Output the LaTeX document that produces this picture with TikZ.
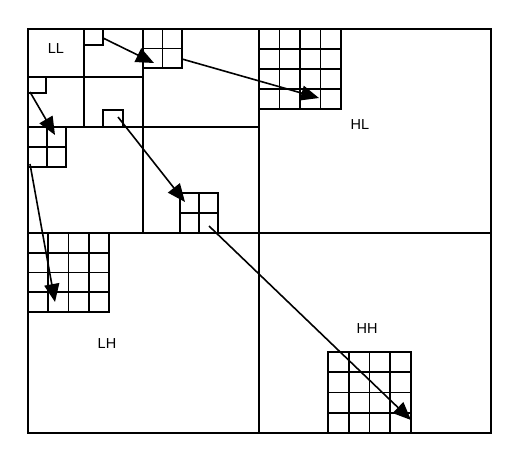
\documentclass[tikz,border=0pt]{standalone}
\usepackage{fontspec}
\setmainfont{Liberation Sans}
\usetikzlibrary{arrows.meta}
\tikzset{
  frame/.style={line width=2pt, line cap=rect},
  gridline/.style={line width=1.8pt, line cap=rect},
  arr/.style={line width=1.6pt, -{Triangle[length=18pt,width=15pt]}},
  lbl/.style={font=\fontsize{14.5}{17}\selectfont, inner sep=0pt}
}
\newcommand{\cellgrid}[5]{%
  \foreach \i in {0,...,#5}{%
    \draw[gridline] ({#1+(#3-#1)*\i/#5},#2) -- ({#1+(#3-#1)*\i/#5},#4);
    \draw[gridline] (#1,{#2+(#4-#2)*\i/#5}) -- (#3,{#2+(#4-#2)*\i/#5});
  }}
\begin{document}
\begin{tikzpicture}[x=1pt,y=-1pt]
\useasboundingbox (0,0) rectangle (516,456);
% main structure
\draw[frame] (28,29) rectangle (491,433);
\draw[frame] (259,29) -- (259,433);
\draw[frame] (28,233) -- (491,233);
\draw[frame] (143,29) -- (143,233);
\draw[frame] (28,127) -- (259,127);
\draw[frame] (84,29) -- (84,127);
\draw[frame] (28,77) -- (143,77);
% small squares
\draw[gridline] (84,45) -- (103,45) -- (103,29);
\draw[gridline] (28,93) -- (46,93) -- (46,77);
\draw[gridline] (103,127) -- (103,110) -- (123,110) -- (123,127);
% grids
\cellgrid{143}{29}{182}{68}{2}
\cellgrid{259}{29}{341}{109}{4}
\cellgrid{28}{127}{66}{167}{2}
\cellgrid{28}{233}{109}{312}{4}
\cellgrid{180}{193}{218}{233}{2}
\cellgrid{328}{352}{411}{433}{4}
% labels
\node[lbl] (ll) at (56,49) {LL};
\node[lbl] (hl) at (360,125) {HL};
\node[lbl] (lh) at (107,344) {LH};
\node[lbl] (hh) at (367,329) {HH};
% arrow endpoints
\coordinate (a1s) at (103,38);  \coordinate (a1e) at (154,63);
\coordinate (a2s) at (182,59);  \coordinate (a2e) at (319,98);
\coordinate (a3s) at (30,92);   \coordinate (a3e) at (55,135);
\coordinate (a4s) at (118,117); \coordinate (a4e) at (185,202);
\coordinate (a5s) at (209,226); \coordinate (a5e) at (411,420);
\coordinate (a6s) at (30,164);  \coordinate (a6e) at (55,302);
\draw[arr] (a1s) -- (a1e);
\draw[arr] (a2s) -- (a2e);
\draw[arr] (a3s) -- (a3e);
\draw[arr] (a4s) -- (a4e);
\draw[arr] (a5s) -- (a5e);
\draw[arr] (a6s) -- (a6e);
\end{tikzpicture}
\end{document}
